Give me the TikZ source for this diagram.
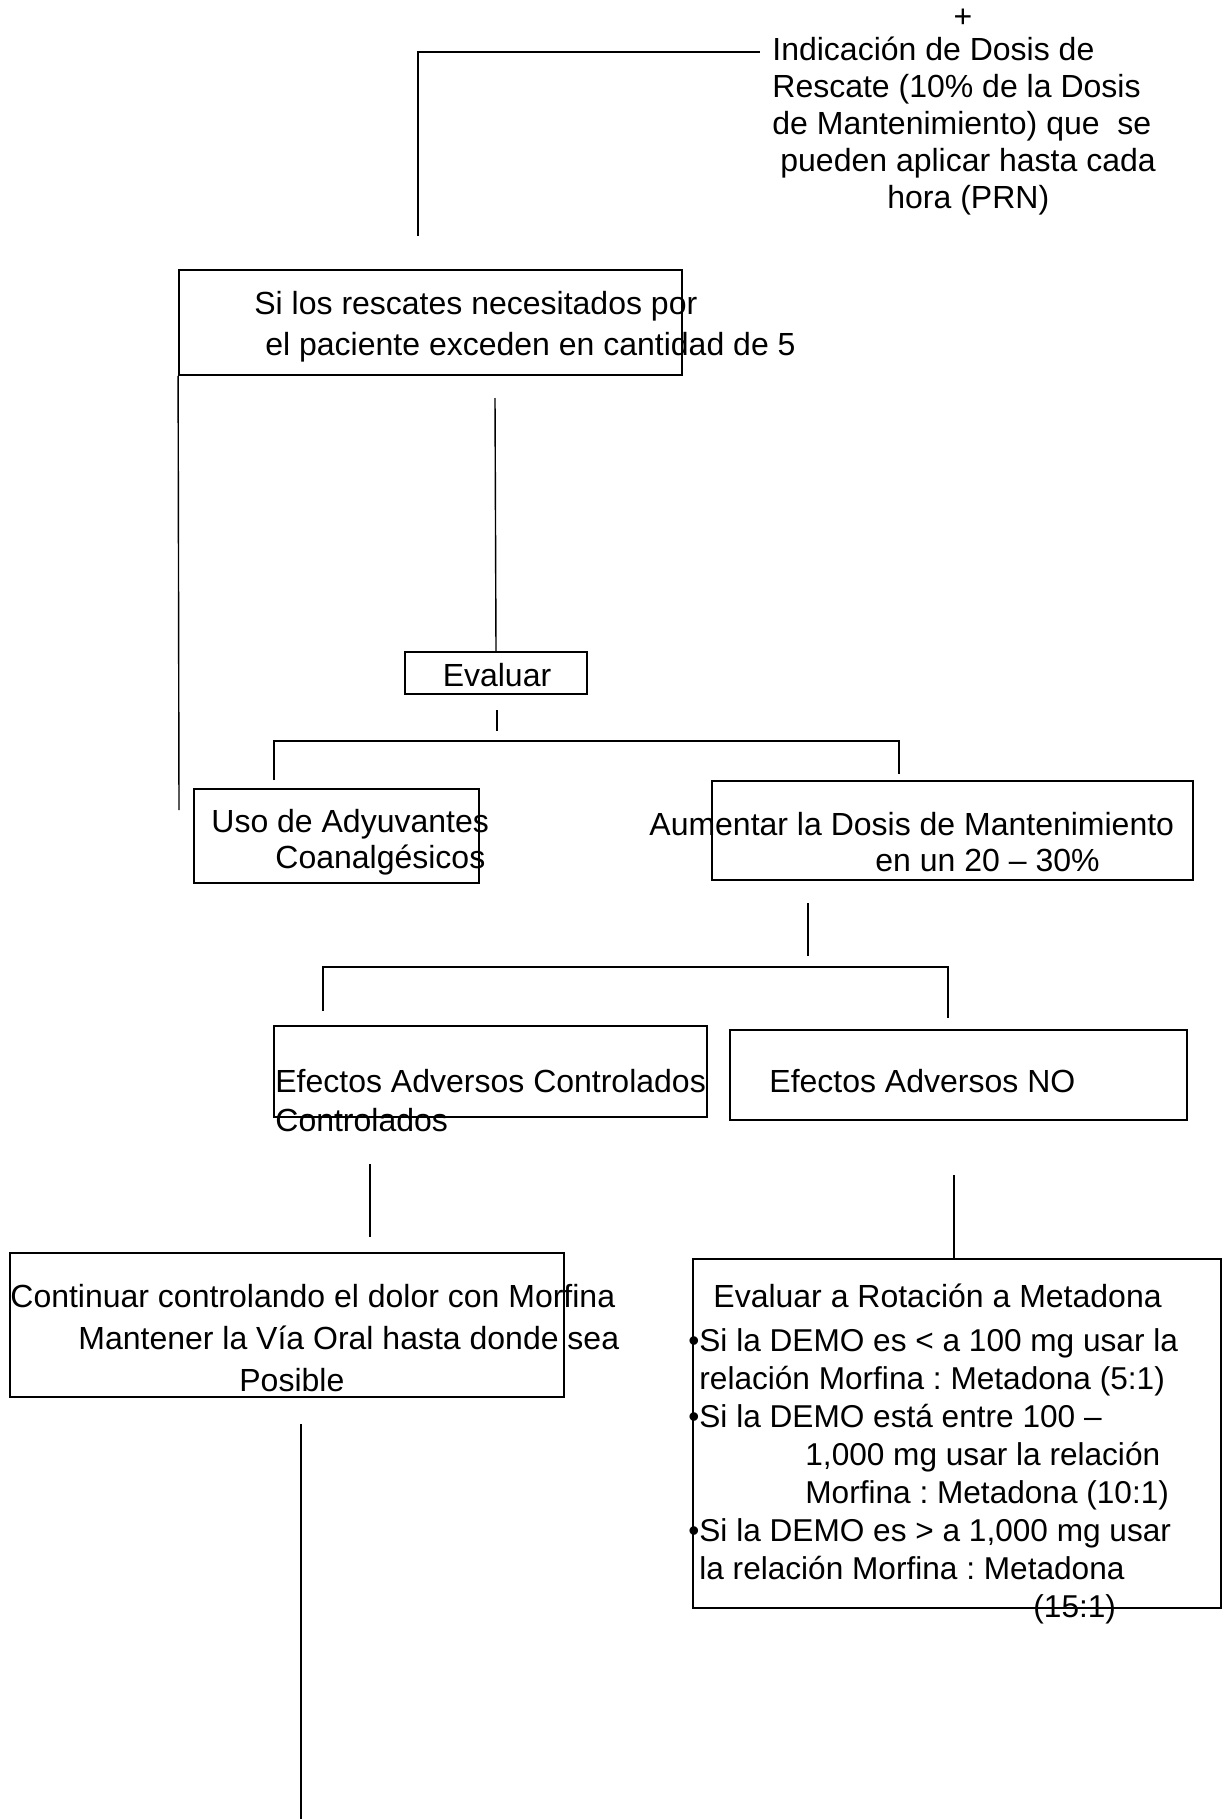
\documentclass[tikz,border=0pt]{standalone}
\usepackage{fontspec}
\setmainfont{Liberation Sans}
\usepackage{tikz}
\definecolor{inkc}{HTML}{000000}
\newcommand{\txtsize}[2][16pt]{\fontsize{#1}{#2}\selectfont\frenchspacing}

\begin{document}
\begin{tikzpicture}[x=0.5pt, y=-0.5pt,
  box/.style={draw=inkc, line width=0.9pt, inner sep=0pt},
  txt/.style={inner sep=0pt, align=left, text=inkc, anchor=west, font=\txtsize{18.5pt}},
  lnk/.style={draw=inkc, line width=0.7pt}]
  \useasboundingbox (0,0) rectangle (1223,1819);

  % top: rescue dose
  \node[txt, anchor=center] (plus) at (963,18) {+};
  \node[txt] (resc) at (772,126) {Indicación de Dosis de\\Rescate (10\% de la Dosis\\de Mantenimiento) que\ \ se\\\hspace*{4pt}pueden aplicar hasta cada\\\hspace*{57.5pt}hora (PRN)};
  \coordinate (rtop) at (418,236);
  \coordinate (rcorner) at (418,52);
  \coordinate (rend) at (760,52);
  \draw[lnk] (rtop) -- (rcorner) -- (rend);

  % rescues above 5
  \node[box, minimum width=251.5pt, minimum height=52.5pt] (exc) at (430.5,322.5) {};
  \node[txt, font=\txtsize{20.5pt}] (exctxt) at (254,326.5) {Si los rescates necesitados por\\\hspace*{5.5pt}el paciente exceden en cantidad de 5};
  \coordinate (excleft) at (179,810);
  \draw[lnk] (exc.south west) -- (excleft);

  % evaluate
  \node[box, minimum width=91pt, minimum height=21pt] (eval) at (496,673) {};
  \node[txt, anchor=center] (evaltxt) at (497,675) {Evaluar};
  \coordinate (evtop) at (495,398);
  \draw[lnk] (evtop) -- (eval.north);
  \coordinate (evs1) at (497,710);
  \coordinate (evs2) at (497,731);
  \draw[lnk] (evs1) -- (evs2);
  \coordinate (brl) at (274,780);
  \coordinate (brr) at (899,774);
  \draw[lnk] (brl) -- (274,741) -- (899,741) -- (brr);

  % adjuvants / increase dose
  \node[box, minimum width=142.5pt, minimum height=47pt] (adj) at (336.5,836) {};
  \node[txt, font=\txtsize{18pt}] (adjtxt) at (211,842) {Uso de Adyuvantes\\\hspace*{32pt}Coanalgésicos};
  \node[box, minimum width=240.5pt, minimum height=49.5pt] (inc) at (952.5,830.5) {};
  \node[txt, font=\txtsize{18pt}] (inctxt) at (649,842) {Aumentar la Dosis de Mantenimiento\\\hspace*{113pt}en un 20 – 30\%};
  \coordinate (incs1) at (808,903);
  \coordinate (incs2) at (808,956);
  \draw[lnk] (incs1) -- (incs2);
  \coordinate (br2l) at (323,1011);
  \coordinate (br2r) at (948,1018);
  \draw[lnk] (br2l) -- (323,967) -- (948,967) -- (br2r);

  % adverse effects
  \node[box, minimum width=216.5pt, minimum height=45.5pt] (ctl) at (490.5,1071.5) {};
  \node[txt, font=\txtsize{19.5pt}] (ctltxt) at (275,1100.5) {Efectos Adversos Controlados\\Controlados};
  \node[box, minimum width=228.5pt, minimum height=45pt] (nctl) at (958.5,1075) {};
  \node[txt] (nctltxt) at (769,1081) {Efectos Adversos NO};
  \coordinate (ctls) at (370,1164);
  \coordinate (ctle) at (370,1237);
  \draw[lnk] (ctls) -- (ctle);
  \coordinate (nctls) at (954,1175);

  % continue with morphine
  \node[box, minimum width=277pt, minimum height=72pt] (cont) at (287,1325) {};
  \node[txt, font=\txtsize{21pt}] (conttxt) at (10,1338) {Continuar controlando el dolor con Morfina\\\hspace*{34pt}Mantener la Vía Oral hasta donde sea\\\hspace*{114.5pt}Posible};
  \coordinate (conts) at (301,1424);
  \coordinate (conte) at (301,1819);
  \draw[lnk] (conts) -- (conte);

  % methadone rotation
  \node[box, minimum width=264pt, minimum height=174.5pt] (meta) at (957,1433.5) {};
  \draw[lnk] (nctls) -- (meta.north -| nctls);
  \node[txt, font={\txtsize[15.8pt]{19pt}}] (metatxt) at (699,1454) {\hspace*{7pt}{\fontsize{16pt}{19pt}\selectfont Evaluar a Rotación a Metadona}\\[3pt]
    \llap{\textbullet}Si la DEMO es < a 100 mg usar la\\
    relación Morfina : Metadona (5:1)\\
    \llap{\textbullet}Si la DEMO está entre 100 –\\
    \hspace*{53pt}1,000 mg usar la relación\\
    \hspace*{53pt}Morfina : Metadona (10:1)\\
    \llap{\textbullet}Si la DEMO es > a 1,000 mg usar\\
    la relación Morfina : Metadona\\
    \hspace*{167pt}(15:1)};
\end{tikzpicture}
\end{document}
